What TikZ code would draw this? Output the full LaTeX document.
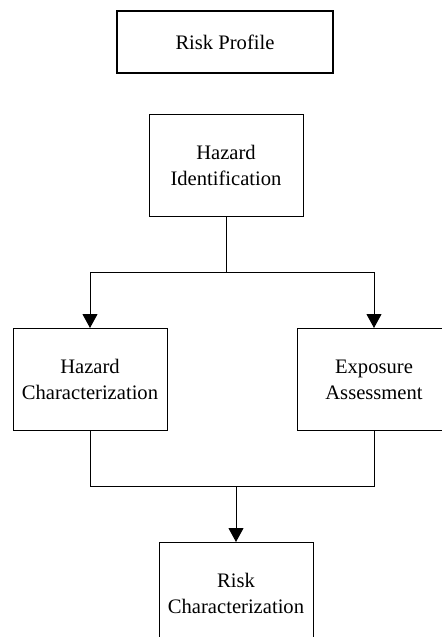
\documentclass[tikz,border=0pt]{standalone}
\usepackage{fontspec}
\setmainfont{Liberation Serif}
\usetikzlibrary{arrows.meta}
\usetikzlibrary{calc}
\usetikzlibrary{positioning}

\begin{document}
\begin{tikzpicture}[
		x=0.5pt,y=-0.5pt,line width=0.5pt,
		>={Triangle[length=7pt,width=7.5pt]},
		stage/.style={draw,rectangle,minimum width=77pt,minimum height=51pt,inner sep=0pt,align=center,font=\fontsize{10.3}{12.9}\selectfont},
		profile/.style={stage,line width=1pt,minimum width=108pt,minimum height=31pt}
	]
		\useasboundingbox (0,0) rectangle (442,637);

		\node [profile] at (225,42) (risk_profile) {Risk Profile};
		\node [stage,below=20pt of risk_profile,xshift=0.5pt] (hazard_id) {Hazard\\Identification};
		\node [stage,below=55.5pt of hazard_id,xshift=-68pt] (hazard_char) {Hazard\\Characterization};
		\node [stage,below=55.5pt of hazard_id,xshift=74pt] (exposure) {Exposure\\Assessment};
		\node [stage,below=55.5pt of hazard_char,xshift=73pt] (risk_char) {Risk\\Characterization};

		\draw [->] (hazard_id.south) -- ++(0,55) -| (hazard_char.north);
		\draw [->] (hazard_id.south) -- ++(0,55) -| (exposure.north);

		\coordinate (merge) at ($(hazard_char.south)+(0,55)$);
		\draw (hazard_char.south) -- (merge) -| (exposure.south);
		\draw [->] (merge -| risk_char.north) -- (risk_char.north);
	\end{tikzpicture}
\end{document}
